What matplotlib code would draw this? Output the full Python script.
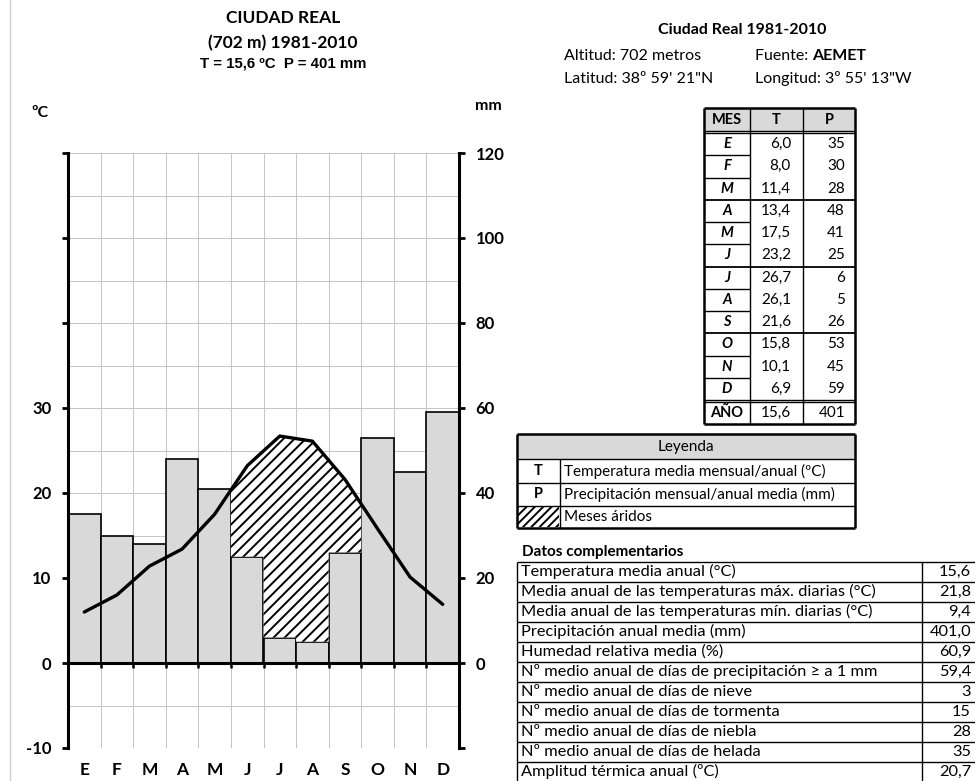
import matplotlib
matplotlib.use('Agg')
import matplotlib.pyplot as plt
from matplotlib.patches import Rectangle
import numpy as np

# datos mensuales
meses = ['E', 'F', 'M', 'A', 'M', 'J', 'J', 'A', 'S', 'O', 'N', 'D']
temp = [6.0, 8.0, 11.4, 13.4, 17.5, 23.2, 26.7, 26.1, 21.6, 15.8, 10.1, 6.9]
prec = [35, 30, 28, 48, 41, 25, 6, 5, 26, 53, 45, 59]
t_anual = 15.6
p_anual = 401

datos_etiq = ['Temperatura media anual (°C)',
              'Media anual de las temperaturas máx. diarias (°C)',
              'Media anual de las temperaturas mín. diarias (°C)',
              'Precipitación anual media (mm)',
              'Humedad relativa media (%)',
              'Nº medio anual de días de precipitación ≥ a 1 mm',
              'Nº medio anual de días de nieve',
              'Nº medio anual de días de tormenta',
              'Nº medio anual de días de niebla',
              'Nº medio anual de días de helada',
              'Amplitud térmica anual (ºC)']
datos_val = ['15,6', '21,8', '9,4', '401,0', '60,9', '59,4', '3', '15', '28', '35', '20,7']

FAM = ['Lato', 'DejaVu Sans']
plt.rcParams['font.family'] = FAM
plt.rcParams['hatch.linewidth'] = 1.4

def coma(v):
    return ('%.1f' % v).replace('.', ',')

fig = plt.figure(figsize=(9.75, 7.81), dpi=100)

# capa en pixeles para textos y tablas
tab = fig.add_axes([0, 0, 1, 1])
tab.set_xlim(0, 975)
tab.set_ylim(781, 0)
tab.axis('off')
tab.plot([10, 10], [0, 781], color='#d0d0d0', lw=1)

# %%
# climograma
ax = fig.add_axes([68/975, 1-748/781, (459-68)/975, (748-153)/781])
ax.patch.set_alpha(0)
ax.set_xlim(0, 12)
ax.set_ylim(-10, 60)
x = np.arange(12) + 0.5
p_half = np.array(prec) / 2.0
t = np.array(temp)

for yy in np.arange(-5, 61, 5):
    ax.plot([0, 12], [yy, yy], color='#c4c4c4', lw=0.7, zorder=1)
for xx in range(1, 12):
    ax.plot([xx, xx], [-10, 60], color='#c4c4c4', lw=0.7, zorder=1)

ax.bar(x, p_half, width=1.0, color='#d9d9d9', edgecolor='black', lw=1.2, zorder=2)

# meses aridos (T > P/2)
arido = np.where(t > p_half)[0]
i0, i1 = arido[0], arido[-1]
xs_up = [i0] + list(x[i0:i1+1]) + [i1 + 1]
ys_up = list(np.interp(xs_up, x, t))
poly_x = list(xs_up)
poly_y = list(ys_up)
for i in range(i1, i0 - 1, -1):
    poly_x += [i + 1, i]
    poly_y += [p_half[i], p_half[i]]
ax.fill(poly_x, poly_y, facecolor='white', edgecolor='black', lw=0, hatch='///', zorder=3)

ax.plot(x, t, color='black', lw=2.4, zorder=4, solid_capstyle='round')
ax.plot([0, 12], [0, 0], color='black', lw=2.2, zorder=5)
ax.vlines(range(1, 12), -0.6, 0, color='black', lw=1.8, zorder=5)

for s in ['top', 'bottom']:
    ax.spines[s].set_visible(False)
for s in ['left', 'right']:
    ax.spines[s].set_linewidth(2.2)
ax.set_yticks(range(-10, 61, 10))
ax.set_yticklabels(['-10', '0', '10', '20', '30', '', '', ''])
ax.tick_params(axis='y', direction='out', length=4, width=2, pad=8)
for lb in ax.get_yticklabels():
    lb.set_fontweight('bold')
    lb.set_fontsize(12)
ax.set_xticks(x)
ax.set_xticklabels(meses, fontweight='bold', fontsize=12.5)
ax.tick_params(axis='x', length=0, pad=10)

ax2 = ax.twinx()
ax2.set_ylim(-20, 120)
ax2.set_yticks(range(-20, 121, 20))
ax2.set_yticklabels([''] + [str(v) for v in range(0, 121, 20)])
ax2.tick_params(axis='y', direction='out', length=4, width=2, pad=8)
for lb in ax2.get_yticklabels():
    lb.set_fontweight('bold')
    lb.set_fontsize(12)
for s in ax2.spines.values():
    s.set_visible(False)

# titulos del climograma
tab.text(283, 18, 'CIUDAD REAL', ha='center', va='center', fontsize=12.5, fontweight='bold')
tab.text(283, 43, '(702 m) 1981-2010', ha='center', va='center', fontsize=12.5, fontweight='bold')
tab.text(283, 63, 'T = %s ºC  P = %d mm' % (coma(t_anual), p_anual), ha='center', va='center',
         fontsize=10.8, fontweight='bold', family=['Liberation Sans', 'DejaVu Sans'])
tab.text(40, 113, 'ºC', ha='center', va='center', fontsize=11.5, fontweight='bold')
tab.text(488, 106, 'mm', ha='center', va='center', fontsize=11.5, fontweight='bold')

# %%
# cabecera derecha
tab.text(742, 30, 'Ciudad Real 1981-2010', ha='center', va='center', fontsize=11.5, fontweight='bold')
tab.text(564, 56, 'Altitud: 702 metros', ha='left', va='center', fontsize=11.5)
tab.text(755, 56, 'Fuente: ', ha='left', va='center', fontsize=11.5)
tab.text(812, 56, 'AEMET', ha='left', va='center', fontsize=11.5, fontweight='bold')
tab.text(564, 79, 'Latitud: 38º 59\' 21"N', ha='left', va='center', fontsize=11.5)
tab.text(755, 79, 'Longitud: 3º 55\' 13"W', ha='left', va='center', fontsize=11.5)

def hl(x0, x1, y, lw=1.0):
    tab.plot([x0, x1], [y, y], color='black', lw=lw, solid_capstyle='butt')

def vl(x0, y0, y1, lw=1.0):
    tab.plot([x0, x0], [y0, y1], color='black', lw=lw, solid_capstyle='butt')

# tabla mensual
cx = [704, 750, 803, 855]
y_h0, y_h1 = 108, 131
rh = 22.25
tab.add_patch(Rectangle((cx[0], y_h0), cx[3]-cx[0], y_h1-y_h0, facecolor='#d9d9d9', edgecolor='none'))
for j, h in enumerate(['MES', 'T', 'P']):
    tab.text((cx[j] + cx[j+1]) / 2, (y_h0 + y_h1) / 2 + 1, h, ha='center', va='center',
             fontsize=10.5, fontweight='bold')
y_body = y_h1 + 2
for i in range(12):
    yc = y_body + rh * (i + 0.5)
    tab.text((cx[0] + cx[1]) / 2, yc, meses[i], ha='center', va='center',
             fontsize=10.5, fontweight='bold', style='italic')
    tab.text(cx[2] - 12, yc, coma(temp[i]), ha='right', va='center', fontsize=11)
    tab.text(cx[3] - 10, yc, str(prec[i]), ha='right', va='center', fontsize=11)
    if i < 11:
        yl = y_body + rh * (i + 1)
        if (i + 1) % 3 == 0:
            hl(cx[0], cx[3], yl, 1.3)
        else:
            hl(cx[0], cx[1], yl, 1.0)
y_end = y_body + rh * 12
y_an = y_end + 2
y_bot = y_an + 22
tab.text((cx[0] + cx[1]) / 2, (y_an + y_bot) / 2, 'AÑO', ha='center', va='center', fontsize=10.5, fontweight='bold')
tab.text(cx[2] - 12, (y_an + y_bot) / 2, coma(t_anual), ha='right', va='center', fontsize=11)
tab.text(cx[3] - 10, (y_an + y_bot) / 2, str(p_anual), ha='right', va='center', fontsize=11)
hl(cx[0], cx[3], y_h0, 1.8)
hl(cx[0], cx[3], y_h1, 1.0)
hl(cx[0], cx[3], y_body, 1.0)
hl(cx[0], cx[3], y_end, 1.0)
hl(cx[0], cx[3], y_an, 1.0)
hl(cx[0], cx[3], y_bot, 1.8)
vl(cx[0], y_h0, y_bot, 1.8)
vl(cx[3], y_h0, y_bot, 1.8)
vl(cx[1], y_h0, y_bot, 1.0)
vl(cx[2], y_h0, y_bot, 1.0)

# %%
# leyenda
lx0, lx1, lxc = 517, 855, 560
ly = [434, 459, 483, 506, 528]
tab.add_patch(Rectangle((lx0, ly[0]), lx1-lx0, ly[1]-ly[0], facecolor='#d9d9d9', edgecolor='none'))
tab.text((lx0 + lx1) / 2, (ly[0] + ly[1]) / 2, 'Leyenda', ha='center', va='center', fontsize=11)
tab.add_patch(Rectangle((lx0 + 1, ly[3] + 1), lxc-lx0-2, ly[4]-ly[3]-2, facecolor='white',
                        edgecolor='black', lw=0, hatch='////'))
ley_sim = ['T', 'P']
ley_txt = ['Temperatura media mensual/anual (ºC)', 'Precipitación mensual/anual media (mm)', 'Meses áridos']
for k in range(3):
    yc = (ly[k+1] + ly[k+2]) / 2
    if k < 2:
        tab.text((lx0 + lxc) / 2, yc, ley_sim[k], ha='center', va='center', fontsize=10.5, fontweight='bold')
    tab.text(lxc + 4, yc, ley_txt[k], ha='left', va='center', fontsize=11)
for yy in ly[1:4]:
    hl(lx0, lx1, yy, 1.0)
hl(lx0, lx1, ly[0], 1.8)
hl(lx0, lx1, ly[4], 1.8)
vl(lx0, ly[0], ly[4], 1.8)
vl(lx1, ly[0], ly[4], 1.8)
vl(lxc, ly[1], ly[4], 1.0)

# %%
# datos complementarios
tab.text(522, 552, 'Datos complementarios', ha='left', va='center', fontsize=11, fontweight='bold')
dx0, dxs, dx1 = 517, 922, 975
dy0, drh = 561.5, 20
for i in range(len(datos_etiq)):
    yc = dy0 + drh * (i + 0.5)
    tab.text(dx0 + 4, yc, datos_etiq[i], ha='left', va='center', fontsize=11.8)
    tab.text(dx1 - 4, yc, datos_val[i], ha='right', va='center', fontsize=11.8)
    hl(dx0, dx1, dy0 + drh * i, 1.0)
hl(dx0, dx1, dy0 + drh * len(datos_etiq), 1.0)
vl(dx0, dy0, dy0 + drh * len(datos_etiq), 1.0)
vl(dxs, dy0, dy0 + drh * len(datos_etiq), 1.0)

fig.savefig('out.png', dpi=100)
